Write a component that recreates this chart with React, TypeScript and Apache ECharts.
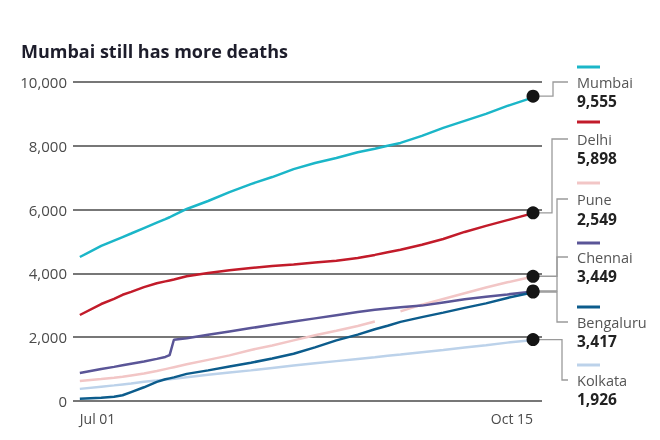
import React, { useEffect, useRef } from 'react';
import * as echarts from 'echarts';

// Days since Jul 01
const days = [0, 5, 8, 10, 12, 15, 18, 20, 21, 22, 25, 30, 35, 40, 45, 50, 55, 60, 65, 69, 72, 75, 80, 85, 90, 95, 100, 105, 106];

const mumbai = [4514, 4860, 5030, 5140, 5250, 5420, 5590, 5700, 5760, 5830, 6020, 6270, 6550, 6800, 7020, 7270, 7460, 7620, 7800, 7910, 8000, 8090, 8310, 8560, 8780, 9000, 9250, 9470, 9555];
const delhi = [2696, 3040, 3200, 3330, 3420, 3570, 3690, 3750, 3780, 3810, 3910, 4010, 4100, 4170, 4230, 4280, 4340, 4400, 4480, 4580, 4660, 4740, 4900, 5080, 5300, 5490, 5670, 5850, 5898];
const pune = [630, 690, 730, 760, 800, 860, 940, 1000, 1030, 1060, 1150, 1290, 1430, 1600, 1740, 1900, 2060, 2200, 2350, 2490, null, 2810, 3020, 3200, 3380, 3560, 3720, 3870, 3910];
const chennai = [880, 1000, 1070, 1120, 1170, 1240, 1320, 1380, 1440, 1920, 1970, 2075, 2180, 2285, 2390, 2490, 2590, 2690, 2790, 2860, 2900, 2940, 2990, 3090, 3190, 3270, 3340, 3420, 3449];
const bengaluru = [70, 100, 130, 180, 280, 430, 600, 680, 710, 740, 850, 960, 1080, 1200, 1330, 1480, 1680, 1900, 2080, 2250, 2360, 2480, 2630, 2770, 2920, 3060, 3230, 3380, 3417];
const kolkata = [380, 450, 490, 520, 550, 600, 640, 670, 685, 700, 745, 820, 890, 960, 1035, 1110, 1180, 1250, 1320, 1375, 1420, 1460, 1530, 1600, 1680, 1750, 1830, 1900, 1926];

const cities = ['Mumbai', 'Delhi', 'Pune', 'Chennai', 'Bengaluru', 'Kolkata'];
const totals = [9555, 5898, 2549, 3449, 3417, 1926];

const xTickDays = [0, 106];
const xTickLabels = ['Jul 01', 'Oct 15'];
const yMax = 10000;
const yStep = 2000;

const TITLE = 'Mumbai still has more deaths';

// styles / layout
const COLORS = ['#1bb6c8', '#c21b2a', '#f2c6c6', '#5a5597', '#0c5c8c', '#bcd2ea'];
const FONT = '"Open Sans", sans-serif';
const NAME_Y = [82, 139, 199, 257, 322, 380];
const VALUE_Y = [101, 158, 219, 276, 341, 399];
const SWATCH_Y = [67, 122, 183, 243, 307, 365];
const ELBOW_X = [553, 552, 557, 557, 557, 562];
const LEGEND_X = 577;

export default function App() {
  const ref = useRef<HTMLDivElement>(null);
  useEffect(() => {
    document.body.style.margin = '0';
    const chart = echarts.init(ref.current!, null, { renderer: 'svg' });
    const seriesData = [mumbai, delhi, pune, chennai, bengaluru, kolkata];
    const lineSeries: any[] = seriesData.map((vals, i) => ({
      type: 'line',
      name: cities[i],
      data: days.map((d, j) => [d, vals[j] == null ? '-' : vals[j]]),
      showSymbol: false,
      connectNulls: false,
      lineStyle: { color: COLORS[i], width: 2.5 },
      itemStyle: { color: COLORS[i] },
      z: [8, 7, 4, 5, 6, 3][i],
    }));
    const ends = seriesData.map((vals) => {
      let k = vals.length - 1;
      while (k > 0 && vals[k] == null) k--;
      return [days[k], vals[k] as number];
    });
    lineSeries.push({
      type: 'scatter',
      data: ends,
      symbol: 'circle',
      symbolSize: 13,
      itemStyle: { color: '#141414', opacity: 1 },
      z: 10,
    });

    chart.setOption({
      animation: false,
      title: {
        text: TITLE,
        left: 16,
        top: 37,
        textStyle: { fontFamily: FONT, fontSize: 18, fontWeight: 700, color: '#1d1d2b' },
      },
      grid: { left: 73, right: 118, top: 82, bottom: 39 },
      xAxis: {
        type: 'value',
        min: -1.6,
        max: 108.1,
        splitLine: { show: false },
        axisLine: { show: false },
        axisTick: { show: false },
        axisLabel: {
          customValues: xTickDays,
          formatter: (v: number) => xTickLabels[xTickDays.indexOf(v)] ?? '',
          alignMinLabel: 'left',
          alignMaxLabel: 'right',
          fontFamily: FONT,
          fontSize: 14,
          color: '#4a4a4a',
          margin: 10,
        },
      },
      yAxis: {
        type: 'value',
        min: 0,
        max: yMax,
        interval: yStep,
        axisLine: { show: false },
        axisTick: { show: false },
        splitLine: { lineStyle: { color: '#4a4a4a', width: 1.6 } },
        axisLabel: {
          formatter: (v: number) => v.toLocaleString('en-US'),
          fontFamily: FONT,
          fontSize: 15,
          color: '#4a4a4a',
          margin: 6,
        },
      },
      series: lineSeries,
    });

    const graphics: any[] = [];
    ends.forEach((p, i) => {
      const [px, py] = chart.convertToPixel({ gridIndex: 0 }, p) as number[];
      graphics.push({
        type: 'polyline',
        shape: { points: [[px + 6, py], [ELBOW_X[i], py], [ELBOW_X[i], NAME_Y[i]], [LEGEND_X - 9, NAME_Y[i]]] },
        style: { stroke: '#9a9a9a', lineWidth: 1.3, fill: null },
        z: 1,
      });
      graphics.push({
        type: 'line',
        shape: { x1: LEGEND_X, y1: SWATCH_Y[i], x2: LEGEND_X + 23, y2: SWATCH_Y[i] },
        style: { stroke: COLORS[i], lineWidth: 3 },
      });
      graphics.push({
        type: 'text',
        x: LEGEND_X,
        y: NAME_Y[i],
        style: { text: cities[i], fontFamily: FONT, fontSize: 14.5, lineHeight: 14, fill: '#555', verticalAlign: 'middle', align: 'left' },
      });
      graphics.push({
        type: 'text',
        x: LEGEND_X,
        y: VALUE_Y[i],
        style: { text: totals[i].toLocaleString('en-US'), fontFamily: FONT, fontSize: 15.5, lineHeight: 15, fontWeight: 700, fill: '#222', verticalAlign: 'middle', align: 'left' },
      });
    });
    chart.setOption({ graphic: graphics });

    return () => chart.dispose();
  }, []);
  return <div ref={ref} style={{ position: 'fixed', left: 0, top: 0, width: 660, height: 440 }} />;
}
